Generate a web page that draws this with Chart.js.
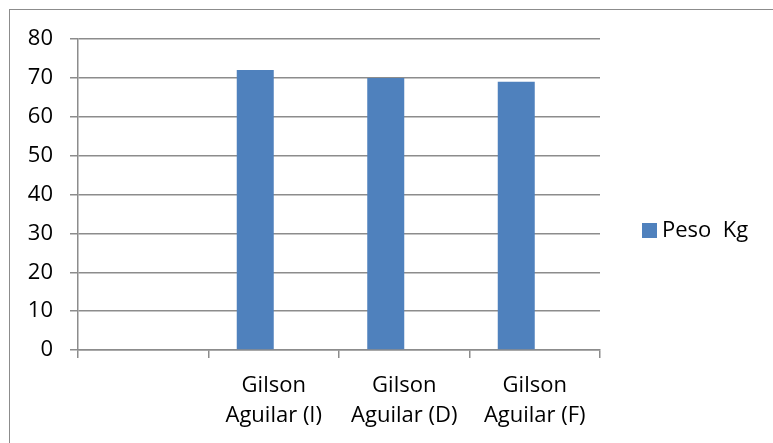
<!DOCTYPE html>
<html>
<head>
<meta charset="utf-8">
<script src="https://cdn.jsdelivr.net/npm/chart.js@4"></script>
<style>
  html, body { margin: 0; padding: 0; background: #fff; overflow: hidden; }
  #wrap { position: relative; width: 773px; height: 443px; overflow: hidden; }
  #frame { position: absolute; left: 9px; top: 9px; width: 800px; height: 460px; border: 1px solid #8c8c8c; box-sizing: border-box; }
  canvas { position: absolute; left: 0; top: 0; }
</style>
</head>
<body>
<div id="wrap">
  <div id="frame"></div>
  <canvas id="chart" width="773" height="443"></canvas>
</div>
<script>
// categories and values
const categories = [
    '',
    ['Gilson', 'Aguilar (I)'],
    ['Gilson', 'Aguilar (D)'],
    ['Gilson', 'Aguilar (F)']
];
const pesoKg = [null, 72, 70, 69];
const emptySeries = [null, null, null, null]; // blank second series, keeps bars left of centre
const seriesName = 'Peso  Kg';
const yTicks = [0, 10, 20, 30, 40, 50, 60, 70, 80];

const FONT = '"Open Sans", sans-serif';
const GRID = '#8c8c8c';

// legend drawn by hand so it sits where the original has it
const sideLegend = {
    id: 'sideLegend',
    afterDraw(chart) {
        const ctx = chart.ctx;
        const ds = chart.data.datasets[0];
        ctx.save();
        ctx.fillStyle = ds.backgroundColor;
        ctx.fillRect(642, 223, 15, 15);
        ctx.fillStyle = '#000';
        ctx.font = '22px ' + FONT;
        ctx.textBaseline = 'middle';
        ctx.fillText(ds.label, 662, 231);
        ctx.restore();
    }
};

new Chart(document.getElementById('chart'), {
    type: 'bar',
    data: {
        labels: categories,
        datasets: [{
            label: seriesName,
            data: pesoKg,
            backgroundColor: '#4f81bd',
            categoryPercentage: 0.567,
            barPercentage: 1
        }, {
            label: '',
            data: emptySeries,
            backgroundColor: '#c0504d',
            categoryPercentage: 0.567,
            barPercentage: 1
        }]
    },
    options: {
        responsive: false,
        animation: false,
        layout: { padding: { left: 16, right: 173, top: 39, bottom: 0 } },
        plugins: {
            legend: { display: false },
            tooltip: { enabled: false }
        },
        scales: {
            x: {
                afterFit: s => { s.height = 93; },
                grid: { offset: true, drawOnChartArea: false, drawTicks: true, tickLength: 8, color: GRID, lineWidth: 1.5 },
                border: { color: GRID, width: 1.5 },
                ticks: { color: '#000', font: { family: FONT, size: 22, lineHeight: 1.36 }, padding: 13, maxRotation: 0 }
            },
            y: {
                min: 0,
                max: 80,
                afterFit: s => { s.width = 62; },
                afterBuildTicks: s => { s.ticks = yTicks.map(v => ({ value: v })); },
                grid: { color: GRID, lineWidth: 1.5, tickLength: 8 },
                border: { color: GRID, width: 1.5 },
                ticks: { color: '#000', font: { family: FONT, size: 22 }, padding: 17 }
            }
        }
    },
    plugins: [sideLegend]
});
</script>
</body>
</html>
